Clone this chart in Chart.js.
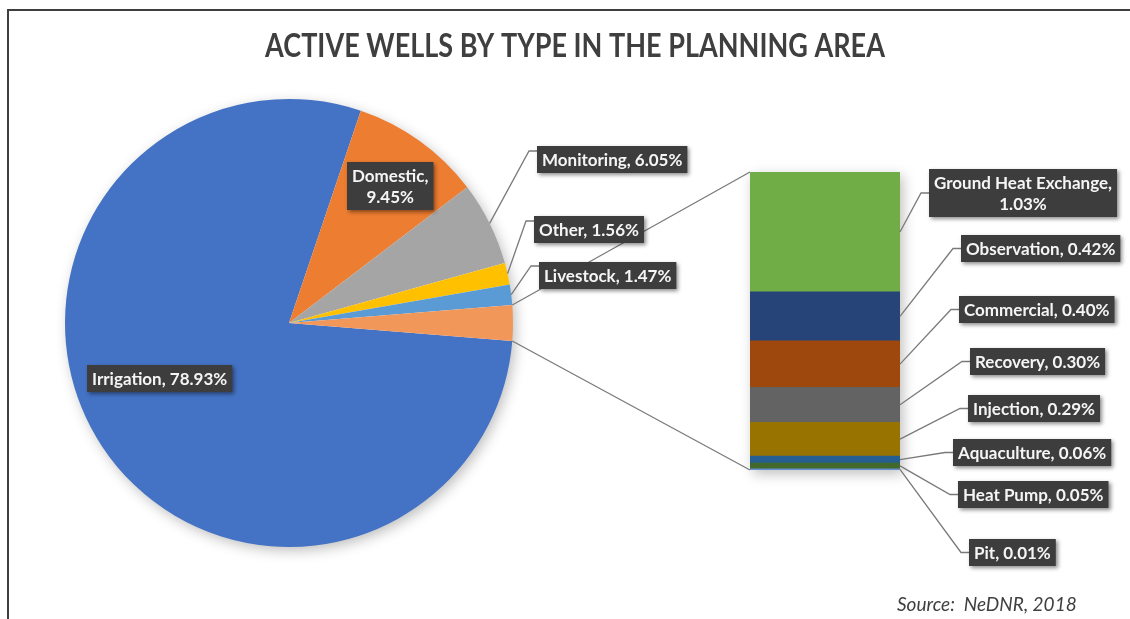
<!DOCTYPE html>
<html>
<head>
<meta charset="utf-8">
<script src="https://cdn.jsdelivr.net/npm/chart.js@4.4.1/dist/chart.umd.min.js"></script>
<style>
  body { margin: 0; background: #fff; }
  #wrap { position: relative; width: 1130px; height: 619px; overflow: hidden; }
  #wrap canvas { position: absolute; left: 0; top: 0; }
  #frame { position: absolute; left: 7px; top: 9px; width: 1130px; height: 620px; border-top: 2px solid #3f3f3f; border-left: 2px solid #3f3f3f; }
</style>
</head>
<body>
<div id="wrap">
  <div id="frame"></div>
  <canvas id="pieChart" width="1130" height="619"></canvas>
  <canvas id="barChart" width="1130" height="619"></canvas>
</div>
<script>
const chartTitle = 'ACTIVE WELLS BY TYPE IN THE PLANNING AREA';
const sourceNote = 'Source:  NeDNR, 2018';

// main pie slices (percent of active wells)
const pieLabels = ['Irrigation', 'Domestic', 'Monitoring', 'Other', 'Livestock'];
const pieValues = [78.93, 9.45, 6.05, 1.56, 1.47];

// small types split out into the stacked bar, top to bottom
const barLabels = ['Ground Heat Exchange', 'Observation', 'Commercial', 'Recovery', 'Injection', 'Aquaculture', 'Heat Pump', 'Pit'];
const barValues = [1.03, 0.42, 0.40, 0.30, 0.29, 0.06, 0.05, 0.01];

const pieColors = ['#4472C4', '#ED7D31', '#A5A5A5', '#FFC000', '#5B9BD5'];
const groupColor = '#F1975A';
const barColors = ['#70AD47', '#264478', '#9E480E', '#636363', '#997300', '#255E91', '#43682B', '#698ED0'];

// label boxes: top-left corner, and leader attach offset from the top (default middle)
const pieLabelBoxes = [
  { x: 87, y: 365, inside: true },
  { x: 347, y: 162, inside: true, wrap: true },
  { x: 537, y: 146, ay: 5 },
  { x: 534, y: 216, ay: 5 },
  { x: 539, y: 262, ay: 4 }
];
const barLabelBoxes = [
  { x: 929, y: 169, wrap: true },
  { x: 961, y: 235 },
  { x: 959, y: 296 },
  { x: 970, y: 348 },
  { x: 968, y: 395 },
  { x: 953, y: 439 },
  { x: 958, y: 481 },
  { x: 969, y: 539 }
];

const labelFont = 'bold 17px Lato';
const leaderColor = '#7a7a7a';

const groupValue = barValues.reduce((a, b) => a + b, 0);
const pieData = pieValues.concat([groupValue]);
const pieTotal = pieData.reduce((a, b) => a + b, 0);
// split-out slice is centred on 3 o'clock
const pieRotation = 90 + (groupValue / 2) / pieTotal * 360;

function fmt(v) {
  return v.toFixed(2) + '%';
}

function drawLabelBox(ctx, lines, left, top) {
  ctx.font = labelFont;
  const lineH = 21;
  const w = Math.max(...lines.map(t => ctx.measureText(t).width)) + 10;
  const h = lines.length * lineH + 6;
  ctx.save();
  ctx.shadowColor = 'rgba(0,0,0,0.45)';
  ctx.shadowBlur = 4;
  ctx.shadowOffsetX = 2;
  ctx.shadowOffsetY = 2;
  ctx.fillStyle = '#3d3d3d';
  ctx.fillRect(left, top, w, h);
  ctx.restore();
  ctx.fillStyle = '#f5f5f5';
  ctx.textAlign = 'center';
  ctx.textBaseline = 'middle';
  lines.forEach((t, i) => ctx.fillText(t, left + w / 2, top + 3 + lineH * i + lineH / 2 + 1));
  return { w, h };
}

function drawLeader(ctx, fromX, fromY, left, attachY) {
  ctx.beginPath();
  ctx.moveTo(fromX, fromY);
  ctx.lineTo(left - 8, attachY);
  ctx.lineTo(left, attachY);
  ctx.stroke();
}

function labelLines(label, value, wrap) {
  return wrap ? [label + ',', fmt(value)] : [label + ', ' + fmt(value)];
}

// title, source line and a soft shadow under the pie
const piePlugin = {
  id: 'pieExtras',
  beforeDatasetsDraw(chart) {
    const arc = chart.getDatasetMeta(0).data[0];
    const ctx = chart.ctx;
    ctx.save();
    ctx.shadowColor = 'rgba(0,0,0,0.28)';
    ctx.shadowBlur = 14;
    ctx.shadowOffsetX = 3;
    ctx.shadowOffsetY = 4;
    ctx.fillStyle = '#fff';
    ctx.beginPath();
    ctx.arc(arc.x, arc.y, arc.outerRadius - 1, 0, Math.PI * 2);
    ctx.fill();
    ctx.restore();
  },
  afterDraw(chart) {
    const ctx = chart.ctx;
    ctx.save();
    ctx.font = 'bold 32px Lato';
    ctx.fillStyle = '#3f3f3f';
    ctx.textAlign = 'center';
    ctx.textBaseline = 'alphabetic';
    ctx.translate(575, 57);
    ctx.scale(0.845, 1);
    ctx.fillText(chartTitle, 0, 0);
    ctx.restore();

    ctx.save();
    ctx.font = 'italic 19px Lato';
    ctx.fillStyle = '#404040';
    ctx.textAlign = 'left';
    ctx.fillText(sourceNote, 897, 611);
    ctx.restore();
  }
};

const pieChart = new Chart(document.getElementById('pieChart'), {
  type: 'pie',
  data: {
    labels: pieLabels.concat(['Other types']),
    datasets: [{
      data: pieData,
      backgroundColor: pieColors.concat([groupColor]),
      borderWidth: 0
    }]
  },
  options: {
    responsive: false,
    animation: false,
    events: [],
    rotation: pieRotation,
    layout: { padding: { left: 65, right: 617, top: 99, bottom: 72 } },
    plugins: {
      legend: { display: false },
      title: { display: false },
      tooltip: { enabled: false }
    }
  },
  plugins: [piePlugin]
});

// stacked bar: Chart.js stacks first dataset at the bottom, so go bottom-up
const barDatasets = barLabels.map((label, i) => ({
  label: label,
  data: [barValues[i]],
  backgroundColor: barColors[i],
  borderWidth: 0,
  barPercentage: 1,
  categoryPercentage: 1
})).reverse();

function barMeta(chart, i) {
  // index into barLabels -> element in the reversed dataset list
  return chart.getDatasetMeta(barLabels.length - 1 - i).data[0];
}

// connectors, leaders and data labels for both charts
const labelPlugin = {
  id: 'dataLabels',
  beforeDatasetsDraw(chart) {
    const top = barMeta(chart, 0);
    const bottom = barMeta(chart, barLabels.length - 1);
    const ctx = chart.ctx;
    ctx.save();
    ctx.shadowColor = 'rgba(0,0,0,0.25)';
    ctx.shadowBlur = 12;
    ctx.shadowOffsetX = 3;
    ctx.shadowOffsetY = 4;
    ctx.fillStyle = '#fff';
    ctx.fillRect(top.x - top.width / 2, top.y, top.width, bottom.base - top.y);
    ctx.restore();
  },
  afterDraw(chart) {
    const ctx = chart.ctx;
    const arcs = pieChart.getDatasetMeta(0).data;
    const group = arcs[arcs.length - 1];
    const topBar = barMeta(chart, 0);
    const bottomBar = barMeta(chart, barLabels.length - 1);

    ctx.save();
    ctx.strokeStyle = leaderColor;
    ctx.lineWidth = 1.3;

    // pie-to-bar connector lines
    ctx.beginPath();
    ctx.moveTo(group.x + Math.cos(group.startAngle) * group.outerRadius, group.y + Math.sin(group.startAngle) * group.outerRadius);
    ctx.lineTo(topBar.x - topBar.width / 2, topBar.y);
    ctx.moveTo(group.x + Math.cos(group.endAngle) * group.outerRadius, group.y + Math.sin(group.endAngle) * group.outerRadius);
    ctx.lineTo(bottomBar.x - bottomBar.width / 2, bottomBar.base);
    ctx.stroke();

    // pie labels
    pieLabels.forEach((label, i) => {
      const box = pieLabelBoxes[i];
      const lines = labelLines(label, pieValues[i], box.wrap);
      ctx.font = labelFont;
      const h = lines.length * 21 + 6;
      if (!box.inside) {
        const arc = arcs[i];
        const mid = (arc.startAngle + arc.endAngle) / 2;
        const ay = box.y + (box.ay !== undefined ? box.ay : h / 2);
        drawLeader(ctx, arc.x + Math.cos(mid) * arc.outerRadius, arc.y + Math.sin(mid) * arc.outerRadius, box.x, ay);
      }
      drawLabelBox(ctx, lines, box.x, box.y);
    });

    // bar labels
    barLabels.forEach((label, i) => {
      const box = barLabelBoxes[i];
      const bar = barMeta(chart, i);
      const lines = labelLines(label, barValues[i], box.wrap);
      const h = lines.length * 21 + 6;
      const ay = box.y + (box.ay !== undefined ? box.ay : h / 2);
      drawLeader(ctx, bar.x + bar.width / 2, (bar.y + bar.base) / 2, box.x, ay);
      drawLabelBox(ctx, lines, box.x, box.y);
    });
    ctx.restore();
  }
};

new Chart(document.getElementById('barChart'), {
  type: 'bar',
  data: {
    labels: ['Other types'],
    datasets: barDatasets
  },
  options: {
    responsive: false,
    animation: false,
    events: [],
    layout: { padding: { left: 750, right: 230, top: 172, bottom: 149 } },
    scales: {
      x: { display: false, stacked: true },
      y: { display: false, stacked: true, min: 0, max: groupValue }
    },
    plugins: {
      legend: { display: false },
      title: { display: false },
      tooltip: { enabled: false }
    }
  },
  plugins: [labelPlugin]
});
</script>
</body>
</html>
